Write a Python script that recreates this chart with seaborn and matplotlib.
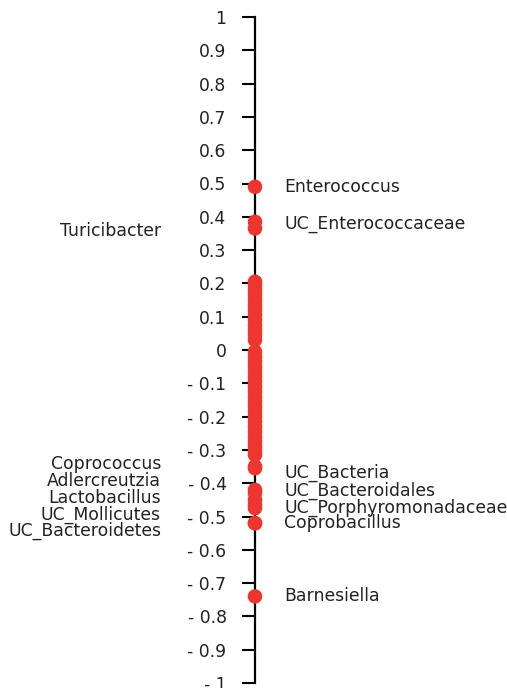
import numpy as np
import pandas as pd
import matplotlib
matplotlib.use("Agg")
import matplotlib.pyplot as plt
import seaborn as sns

# labelled genera: correlation values
right_names = ["Enterococcus", "UC_Enterococcaceae", "UC_Bacteria", "UC_Bacteroidales",
               "UC_Porphyromonadaceae", "Coprobacillus", "Barnesiella"]
right_vals = [0.49, 0.385, -0.355, -0.43, -0.465, -0.52, -0.74]
right_label_y = [0.49, 0.378, -0.37, -0.423, -0.474, -0.52, -0.74]

left_names = ["Turicibacter", "Coprococcus", "Adlercreutzia", "Lactobacillus",
              "UC_Mollicutes", "UC_Bacteroidetes"]
left_vals = [0.365, -0.35, -0.42, -0.45, -0.475, -0.52]
left_label_y = [0.357, -0.342, -0.393, -0.444, -0.495, -0.544]

# unlabelled genera
other_vals = [0.205, 0.195, 0.18, 0.165, 0.15, 0.135, 0.12, 0.105, 0.09, 0.075, 0.06,
              0.045, 0.03, -0.005, -0.02, -0.035, -0.05, -0.065, -0.08, -0.095, -0.11,
              -0.125, -0.14, -0.155, -0.17, -0.185, -0.2, -0.215, -0.23, -0.245, -0.26,
              -0.275, -0.29, -0.305, -0.315]

ticks = np.round(np.arange(-1, 1.01, 0.1), 1)

sns.set_style("white")
plt.rcParams['font.family'] = ['DejaVu Sans']

AXIS_X = 255
df = pd.DataFrame({"r": right_vals + left_vals + other_vals})
df["x"] = AXIS_X

fig = plt.figure(figsize=(5.07, 6.88), dpi=100)
ax = fig.add_axes([0, 5 / 688, 1, 666 / 688])
sns.scatterplot(data=df, x="x", y="r", ax=ax, s=110, color="#ee3530",
                edgecolor="none", linewidth=0, clip_on=False, zorder=3)
ax.set_xlim(0, 507)
ax.set_ylim(-1, 1)

for s in ["top", "right", "bottom"]:
    ax.spines[s].set_visible(False)
ax.spines["left"].set_position(("data", AXIS_X))
ax.spines["left"].set_linewidth(1.6)
ax.spines["left"].set_color("black")
ax.set_xticks([])
ax.set_yticks(ticks)
ax.set_yticklabels(["0" if t == 0 else (f"- {abs(t):g}" if t < 0 else f"{t:g}") for t in ticks])
ax.tick_params(axis="y", left=True, direction="out", length=9.5, width=1.5, pad=11,
               labelsize=12.4, colors="black", labelcolor="#222222")
ax.set_xlabel("")
ax.set_ylabel("")

for name, y in zip(right_names, right_label_y):
    ax.text(284, y, name, ha="left", va="center", fontsize=12.4, color="#222222")
for name, y in zip(left_names, left_label_y):
    ax.text(161, y, name, ha="right", va="center", fontsize=12.4, color="#222222")

fig.savefig("out.png", dpi=100)
